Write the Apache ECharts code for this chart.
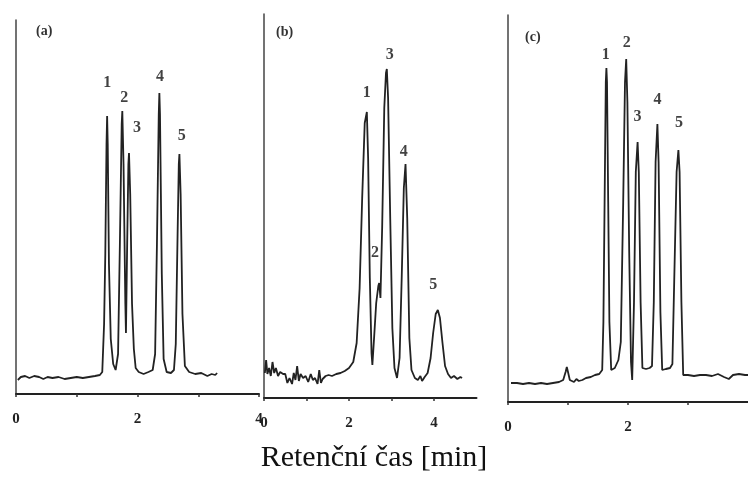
<!DOCTYPE html>
<html>
<head>
<meta charset="utf-8">
<script src="https://cdn.jsdelivr.net/npm/echarts@6/dist/echarts.min.js"></script>
<style>
  html, body { margin: 0; padding: 0; background: #fff; }
  #chart { width: 748px; height: 477px; }
</style>
</head>
<body>
<div id="chart"></div>
<script>
// chromatogram traces: [time min, detector signal]
var traceA = [
  [0.03,14],[0.08,17],[0.15,18],[0.22,16],[0.3,18],[0.38,17],[0.45,15],[0.52,17],[0.6,16],[0.7,17],
  [0.8,15],[0.9,16],[1.0,17],[1.1,16],[1.2,17],[1.3,18],[1.38,19],
  [1.42,22],[1.45,70],[1.47,140],[1.49,250],[1.50,278],[1.51,250],[1.53,130],[1.56,55],[1.60,30],[1.64,24],
  [1.68,40],[1.71,150],[1.74,270],[1.75,283],[1.77,230],[1.80,90],[1.81,61],
  [1.83,150],[1.85,230],[1.86,241],[1.88,200],[1.91,90],[1.94,45],[1.97,26],[2.02,22],[2.1,20],[2.18,22],[2.25,24],
  [2.29,40],[2.32,150],[2.35,280],[2.36,301],[2.37,280],[2.40,120],[2.43,35],[2.48,22],[2.55,21],[2.6,24],
  [2.63,50],[2.66,160],[2.68,230],[2.69,240],[2.71,200],[2.74,80],[2.78,28],[2.85,22],[2.95,20],[3.05,21],
  [3.15,18],[3.22,20],[3.28,19],[3.31,21]
];
var traceB = [
  [0.02,25],[0.05,38],[0.08,24],[0.12,30],[0.16,22],[0.20,36],[0.24,25],[0.28,30],[0.33,22],[0.38,26],
  [0.45,24],[0.5,24],[0.55,15],[0.6,20],[0.66,14],[0.7,25],[0.74,18],[0.78,32],[0.82,17],[0.86,24],
  [0.92,20],[0.98,22],[1.04,16],[1.1,24],[1.15,18],[1.2,20],[1.26,14],[1.3,28],[1.34,15],[1.38,19],
  [1.45,22],[1.52,23],[1.6,22],[1.7,24],[1.8,25],[1.9,27],[2.0,30],[2.1,36],[2.18,55],[2.25,110],
  [2.31,200],[2.37,275],[2.42,286],[2.45,240],[2.49,120],[2.53,45],[2.55,33],[2.59,60],[2.64,95],[2.69,112],
  [2.71,115],[2.74,100],[2.78,170],[2.83,290],[2.87,325],[2.89,329],[2.92,300],[2.97,180],[3.02,70],[3.07,30],
  [3.13,20],[3.19,40],[3.24,120],[3.29,210],[3.33,234],[3.37,180],[3.42,60],[3.47,28],[3.55,20],[3.62,18],
  [3.68,22],[3.72,17],[3.78,21],[3.85,25],[3.92,40],[3.98,65],[4.04,84],[4.09,88],[4.14,80],[4.2,55],
  [4.26,32],[4.33,24],[4.4,20],[4.47,22],[4.55,19],[4.62,21],[4.66,20]
];
var traceC = [
  [0.05,19],[0.15,19],[0.25,18],[0.35,19],[0.45,18],[0.55,19],[0.65,18],[0.75,19],[0.85,20],[0.92,22],
  [0.96,30],[0.98,35],[1.0,30],[1.03,22],[1.06,24],[1.1,20],[1.14,23],[1.18,21],[1.24,22],[1.3,24],
  [1.38,25],[1.45,27],[1.52,28],[1.57,32],[1.59,80],[1.61,200],[1.63,320],[1.64,334],[1.65,320],[1.67,200],
  [1.69,80],[1.72,32],[1.78,34],[1.84,42],[1.88,60],[1.92,200],[1.95,320],[1.97,343],[1.99,300],[2.02,150],
  [2.05,40],[2.07,22],[2.10,100],[2.13,230],[2.16,260],[2.18,230],[2.21,100],[2.24,34],[2.30,33],[2.36,34],
  [2.40,36],[2.43,100],[2.46,240],[2.49,278],[2.51,240],[2.54,90],[2.57,32],[2.63,33],[2.70,34],[2.74,38],
  [2.77,120],[2.81,230],[2.84,252],[2.86,230],[2.89,100],[2.92,27],[3.0,27],[3.1,26],[3.2,27],[3.3,27],
  [3.4,26],[3.5,28],[3.6,25],[3.68,23],[3.75,27],[3.85,28],[3.95,27],[4.0,27]
];

// peak numbers: [time, signal, label]
var peaksA = [[1.50,311,'1'],[1.78,296,'2'],[1.99,266,'3'],[2.37,317,'4'],[2.73,258,'5']];
var peaksB = [[2.42,305,'1'],[2.61,145,'2'],[2.96,343,'3'],[3.29,246,'4'],[3.98,113,'5']];
var peaksC = [[1.63,347,'1'],[1.98,359,'2'],[2.16,285,'3'],[2.49,302,'4'],[2.85,279,'5']];

var panelNames = ['(a)', '(b)', '(c)'];
var xMax = [4, 5, 4];
var yMax = [374, 384, 387];
var xTitle = 'Retenční čas [min]';

var serif = "'Liberation Serif', 'DejaVu Serif', serif";
var chart = echarts.init(document.getElementById('chart'));

var grids = [
  { left: 16, width: 243, top: 20, height: 374 },
  { left: 264, width: 212.5, top: 14, height: 384 },
  { left: 508, width: 241, top: 15, height: 387 }
];

var xAxes = [], yAxes = [], series = [];
var traces = [traceA, traceB, traceC];
var peaks = [peaksA, peaksB, peaksC];

for (var i = 0; i < 3; i++) {
  xAxes.push({
    type: 'value', gridIndex: i, min: 0, max: xMax[i], interval: 1,
    axisLine: { lineStyle: { color: '#222', width: 2 } },
    axisTick: { show: true, inside: false, length: 3, lineStyle: { color: '#333', width: 1.5 } },
    splitLine: { show: false },
    axisLabel: {
      color: '#222', fontFamily: serif, fontWeight: 'bold', fontSize: 15, margin: 18,
      showMaxLabel: i === 0,
      formatter: function (v) { return v % 2 === 0 ? v : ''; }
    }
  });
  yAxes.push({
    type: 'value', gridIndex: i, min: 0, max: yMax[i],
    axisLine: { show: true, lineStyle: { color: '#444', width: 1.5 } },
    axisTick: { show: false }, axisLabel: { show: false }, splitLine: { show: false }
  });
  series.push({
    type: 'line', xAxisIndex: i, yAxisIndex: i, data: traces[i],
    symbol: 'none', lineStyle: { color: '#222', width: 1.8 }
  });
  series.push({
    type: 'scatter', xAxisIndex: i, yAxisIndex: i, data: peaks[i],
    symbolSize: 1, itemStyle: { color: 'rgba(0,0,0,0)' },
    label: {
      show: true, position: 'inside', color: '#111', fontFamily: serif,
      fontWeight: 'bold', fontSize: 16,
      formatter: function (p) { return p.data[2]; }
    }
  });
}

var option = {
  animation: false,
  grid: grids,
  xAxis: xAxes,
  yAxis: yAxes,
  series: series,
  graphic: [
    { type: 'text', left: 36, top: 24, style: { text: panelNames[0], font: 'bold 14px ' + serif, fill: '#333' } },
    { type: 'text', left: 276, top: 25, style: { text: panelNames[1], font: 'bold 14px ' + serif, fill: '#333' } },
    { type: 'text', left: 525, top: 30, style: { text: panelNames[2], font: 'bold 14px ' + serif, fill: '#333' } },
    { type: 'text', left: 'center', top: 443, style: { text: xTitle, font: '30px ' + serif, fill: '#111' } }
  ]
};

option && chart.setOption(option);
</script>
</body>
</html>
